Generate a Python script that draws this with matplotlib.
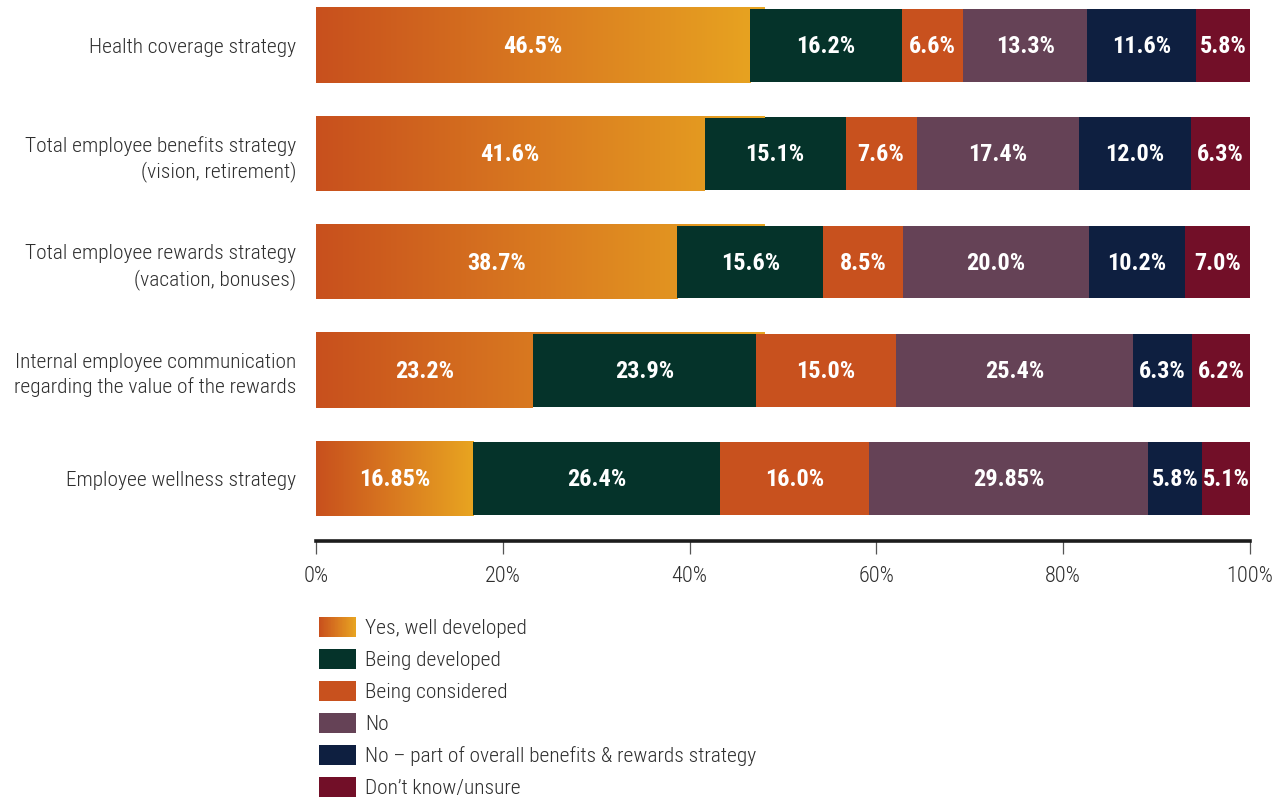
import numpy as np
import matplotlib
matplotlib.use("Agg")
import matplotlib.pyplot as plt
from matplotlib.colors import LinearSegmentedColormap
from matplotlib.patches import Rectangle, Patch
from matplotlib.legend_handler import HandlerBase

# ---- data -------------------------------------------------------------
categories = [
    "Health coverage strategy",
    "Total employee benefits strategy\n(vision, retirement)",
    "Total employee rewards strategy\n(vacation, bonuses)",
    "Internal employee communication\nregarding the value of the rewards",
    "Employee wellness strategy",
]
series_names = [
    "Yes, well developed",
    "Being developed",
    "Being considered",
    "No",
    "No \u2013 part of overall benefits & rewards strategy",
    "Don\u2019t know/unsure",
]
yes_well_developed = [46.5, 41.6, 38.7, 23.2, 16.85]
being_developed = [16.2, 15.1, 15.6, 23.9, 26.4]
being_considered = [6.6, 7.6, 8.5, 15.0, 16.0]
no = [13.3, 17.4, 20.0, 25.4, 29.85]
no_part_of_overall = [11.6, 12.0, 10.2, 6.3, 5.8]
dont_know = [5.8, 6.3, 7.0, 6.2, 5.1]
x_ticks = [0, 20, 40, 60, 80, 100]
x_tick_labels = ["0%", "20%", "40%", "60%", "80%", "100%"]

series = [yes_well_developed, being_developed, being_considered, no,
          no_part_of_overall, dont_know]

# ---- style ------------------------------------------------------------
grad_cmap = LinearSegmentedColormap.from_list("warm", ["#C8501D", "#D97A20", "#E8A521"])
solid_colors = [None, "#05332A", "#C8511E", "#654256", "#0E1F40", "#720F28"]
text_color = "#2e2e2e"
plt.rcParams["font.family"] = ["Roboto Condensed", "DejaVu Sans"]


def fmt(v):
    return f"{v:.2f}%" if abs(round(v, 1) - v) > 1e-9 else f"{v:.1f}%"


class GradientHandler(HandlerBase):
    """Legend key drawn as a left-to-right colour ramp."""

    def create_artists(self, legend, orig_handle, xdescent, ydescent,
                       width, height, fontsize, trans):
        n = 48
        arts = []
        for k in range(n):
            arts.append(Rectangle((-xdescent + width * k / n, -ydescent),
                                  width / n * 1.08, height,
                                  facecolor=grad_cmap(k / (n - 1)),
                                  edgecolor="none", transform=trans))
        return arts


fig = plt.figure(figsize=(12.86, 8.0), dpi=100)
ax = fig.add_axes([316 / 1286, (800 - 541) / 800, (1250 - 316) / 1286, 541 / 800])

ys = np.arange(len(categories))[::-1].astype(float)
bar_h = 0.69
lefts = np.zeros(len(categories))

for si, vals in enumerate(series):
    vals = np.asarray(vals, dtype=float)
    if si == 0:
        bars = ax.barh(ys, vals, left=lefts, height=bar_h, color="none",
                       edgecolor="none", zorder=2)
        # the first four share one ramp; the last bar ramps over its own length
        ramp_end = [48.0, 48.0, 48.0, 48.0, vals[-1]]
        for bi, (patch, y) in enumerate(zip(bars.patches, ys)):
            im = ax.imshow(np.linspace(0, 1, 256)[None, :], cmap=grad_cmap,
                           extent=(0, ramp_end[bi], y - bar_h / 2, y + bar_h / 2),
                           aspect="auto", interpolation="bilinear", zorder=2)
            im.set_clip_path(patch)
            if bi < 4:
                top = y + bar_h / 2
                ax.imshow(np.linspace(0, 1, 256)[None, :], cmap=grad_cmap,
                          extent=(0, ramp_end[bi], top - 0.012, top),
                          aspect="auto", interpolation="bilinear", zorder=4)
    else:
        ax.barh(ys, vals, left=lefts, height=bar_h - 0.02, color=solid_colors[si],
                edgecolor="none", zorder=3)
    for v, l, y in zip(vals, lefts, ys):
        ax.text(l + v / 2, y - 0.01, fmt(v), ha="center", va="center",
                color="white", fontsize=17.5, fontweight="bold", zorder=5)
    lefts = lefts + vals

ax.set_xlim(0, 100)
ax.set_ylim(-0.576, 4.42)
ax.set_xticks(x_ticks, x_tick_labels)
ax.set_yticks(ys, categories)

for s in ("top", "right", "left"):
    ax.spines[s].set_visible(False)
ax.spines["bottom"].set_linewidth(2.6)
ax.spines["bottom"].set_color("#1c1c1c")
ax.tick_params(axis="x", length=9, width=0.9, color="#555555", pad=9,
               labelsize=16, labelcolor=text_color)
ax.tick_params(axis="y", length=0, pad=14, labelsize=15.4, labelcolor=text_color)
for lab in ax.get_yticklabels() + ax.get_xticklabels():
    lab.set_fontweight("light")
for lab in ax.get_yticklabels():
    lab.set_linespacing(1.33)

handles = [Patch(facecolor="none", edgecolor="none")] + [
    Patch(facecolor=c, edgecolor="none") for c in solid_colors[1:]
]
leg = fig.legend(handles, series_names, loc="upper left",
                 bbox_to_anchor=(319 / 1286, (800 - 617) / 800),
                 frameon=False, prop={"size": 15.4, "weight": "light"},
                 handlelength=1.75, handleheight=1.03,
                 handletextpad=0.4, labelspacing=0.51, borderpad=0, borderaxespad=0,
                 handler_map={handles[0]: GradientHandler()})
for t in leg.get_texts():
    t.set_color(text_color)

fig.savefig("out.png", dpi=100)
